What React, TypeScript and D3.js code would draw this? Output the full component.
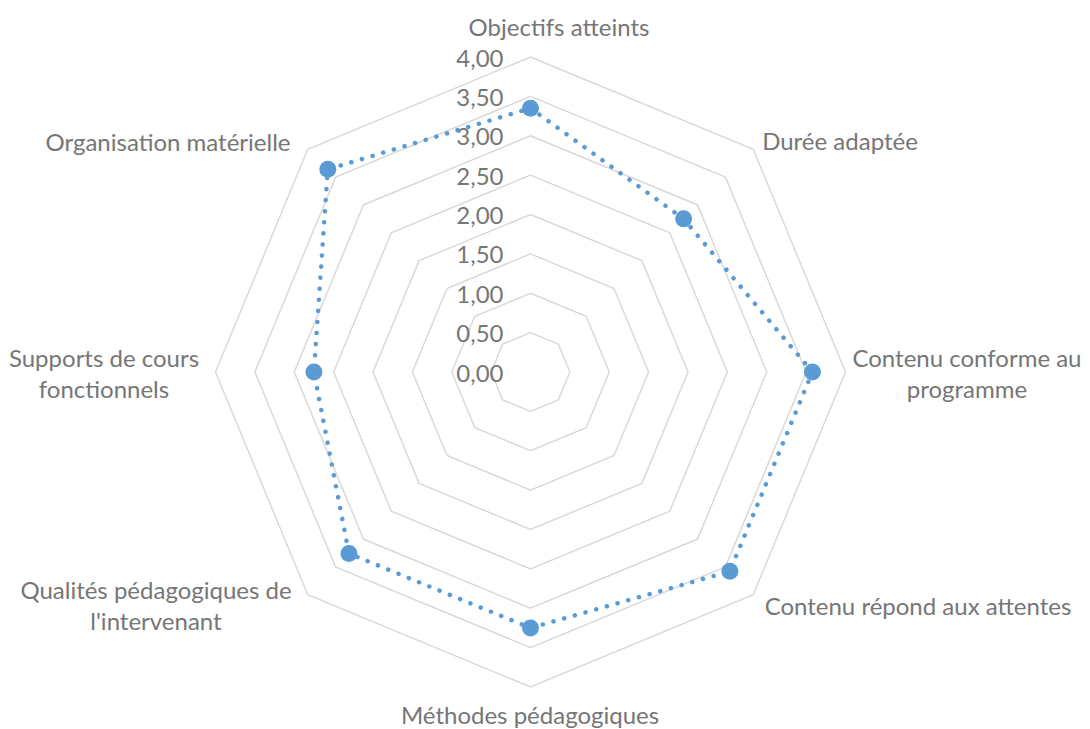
import React from "react"
import * as d3 from "d3"

const categories = [
  ["Objectifs atteints"],
  ["Durée adaptée"],
  ["Contenu conforme au", "programme"],
  ["Contenu répond aux attentes"],
  ["Méthodes pédagogiques"],
  ["Qualités pédagogiques de", "l'intervenant"],
  ["Supports de cours", "fonctionnels"],
  ["Organisation matérielle"],
]
const scores = [3.35, 2.75, 3.58, 3.58, 3.25, 3.26, 2.75, 3.64]
const ticks = [0, 0.5, 1, 1.5, 2, 2.5, 3, 3.5, 4]

// where each category label block is centred
const labelPos = [
  [559, 26],
  [840, 140],
  [967, 372],
  [918, 605],
  [530, 714],
  [156, 604],
  [104, 372],
  [168, 141],
]

const width = 1090
const height = 729
const cx = 530.5
const cy = 372
const radius = 315
const lineGap = 31
const textColor = "#767676"
const font = "Lato, 'Open Sans', sans-serif"

const App = () => {
  const r = d3.scaleLinear().domain([0, 4]).range([0, radius])
  const angle = (i: number) => (i * 2 * Math.PI) / categories.length
  const pt = (i: number, v: number): [number, number] => [
    cx + r(v) * Math.sin(angle(i)),
    cy - r(v) * Math.cos(angle(i)),
  ]

  const ring = d3.line().curve(d3.curveLinearClosed)
  const fmt = (v: number) => d3.format(".2f")(v).replace(".", ",")

  const seriesPts = scores.map((v, i) => pt(i, v))

  return (
    <svg
      width={width}
      height={height}
      style={{ position: "absolute", left: 0, top: 0, background: "#fff" }}
    >
      <g fill="none" stroke="#d9d9d9" strokeWidth={1.5}>
        {ticks
          .filter(t => t > 0)
          .map(t => (
            <path key={t} d={ring(categories.map((_, i) => pt(i, t))) || ""} />
          ))}
      </g>

      <g fontFamily={font} fontSize={24} fill={textColor} textAnchor="end">
        {ticks.map(t => (
          <text key={t} x={cx - 27} y={cy - r(t)} dominantBaseline="central">
            {fmt(t)}
          </text>
        ))}
      </g>

      <path
        d={ring(seriesPts) || ""}
        fill="none"
        stroke="#5b9bd5"
        strokeWidth={4.5}
        strokeLinecap="round"
        strokeDasharray="0.1 11"
      />
      {seriesPts.map((p, i) => (
        <circle key={i} cx={p[0]} cy={p[1]} r={8.5} fill="#5b9bd5" />
      ))}

      <g fontFamily={font} fontSize={24} fill={textColor} textAnchor="middle">
        {categories.map((lines, i) => {
          const [x, y] = labelPos[i]
          const top = y - ((lines.length - 1) * lineGap) / 2
          return (
            <text key={i} x={x} dominantBaseline="central">
              {lines.map((l, j) => (
                <tspan key={j} x={x} y={top + j * lineGap}>
                  {l}
                </tspan>
              ))}
            </text>
          )
        })}
      </g>
    </svg>
  )
}

export default App
